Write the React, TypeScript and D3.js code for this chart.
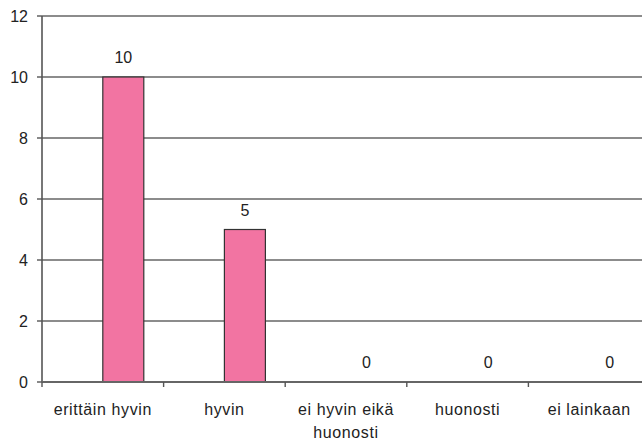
import React from "react";
import * as d3 from "d3";

const categories = ["erittäin hyvin", "hyvin", "ei hyvin eikä huonosti", "huonosti", "ei lainkaan"];
const categoryLines = [["erittäin hyvin"], ["hyvin"], ["ei hyvin eikä", "huonosti"], ["huonosti"], ["ei lainkaan"]];
const values = [10, 5, 0, 0, 0];
const yTicks = [0, 2, 4, 6, 8, 10, 12];

export default function App() {
  const W = 642, H = 444;
  const left = 42, right = 650, top = 16, bottom = 382;
  const x = d3.scaleBand<string>().domain(categories).range([left, right]);
  const y = d3.scaleLinear().domain([0, 12]).range([bottom, top]);
  const barW = 41;
  const font = "'Liberation Sans', Arial, sans-serif";
  return (
    <svg width={W} height={H} style={{ position: "absolute", left: 0, top: 0, background: "#fff" }}>
      {yTicks.filter((t) => t > 0).map((t) => (
        <line key={"g" + t} x1={left} x2={W} y1={y(t)} y2={y(t)} stroke="#1a1a1a" strokeWidth={1.2} />
      ))}
      {categories.map((c, i) => {
        const bx = x(c)! + x.bandwidth() / 2;
        return (
          <rect key={"b" + c} x={bx} y={y(values[i])} width={barW} height={bottom - y(values[i])}
            fill="#F274A2" stroke="#333" strokeWidth={1.2} />
        );
      })}
      <line x1={left} x2={left} y1={top} y2={bottom} stroke="#555" strokeWidth={1.6} />
      <line x1={left} x2={W} y1={bottom} y2={bottom} stroke="#666" strokeWidth={2} />
      {yTicks.map((t) => (
        <g key={"t" + t}>
          <line x1={left - 5} x2={left} y1={y(t)} y2={y(t)} stroke="#555" strokeWidth={1.4} />
          <text x={28} y={y(t)} dy="0.36em" textAnchor="end" fontFamily={font} fontSize={16} fill="#222">{t}</text>
        </g>
      ))}
      {categories.map((c, i) => (
        <line key={"xt" + c} x1={x(c)!} x2={x(c)!} y1={bottom} y2={bottom + 5} stroke="#555" strokeWidth={1.4} />
      ))}
      {categories.map((c, i) => (
        <text key={"v" + c} x={x(c)! + x.bandwidth() / 2 + barW / 2} y={y(values[i]) - 14} textAnchor="middle"
          fontFamily={font} fontSize={16} fill="#222">{values[i]}</text>
      ))}
      {categories.map((c, i) => (
        <text key={"l" + c} textAnchor="middle" fontFamily={font} fontSize={16} fill="#222" letterSpacing={0.6}>
          {categoryLines[i].map((ln, j) => (
            <tspan key={j} x={x(c)! + x.bandwidth() / 2} y={415 + j * 23}>{ln}</tspan>
          ))}
        </text>
      ))}
    </svg>
  );
}
